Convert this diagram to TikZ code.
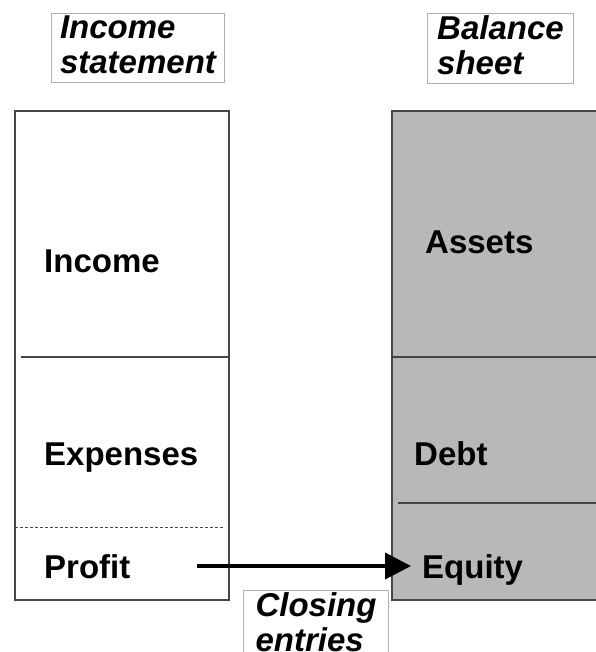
\documentclass[tikz,border=0pt]{standalone}
\usepackage{fontspec}
\setmainfont{Liberation Sans}
\usepackage{xcolor}
\usepackage{tikz}
\usetikzlibrary{arrows.meta,positioning}

\definecolor{sheetgray}{RGB}{184,184,184}
\definecolor{framegray}{RGB}{70,70,70}
\definecolor{labelgray}{RGB}{175,175,175}

\begin{document}
\begin{tikzpicture}[
    x=1pt, y=-1pt,
    every node/.style={font=\fontsize{33}{35}\selectfont\bfseries},
    block/.style={draw=framegray, line width=2pt},
    caption/.style={draw=labelgray, line width=1pt, align=left, anchor=north west,
      inner xsep=7pt, inner ysep=2pt, font=\fontsize{33}{35}\selectfont\bfseries\itshape},
    item/.style={anchor=base west, inner sep=0pt},
    divider/.style={draw=framegray, line width=1.6pt},
    closing/.style={line width=4pt, -{Triangle[length=26pt,width=26pt]}}
  ]
    \useasboundingbox (0,0) rectangle (595,652);

    % Blocks
    \draw[block, fill=white] (15,111) rectangle (229,600);
    \draw[block, fill=sheetgray] (392,111) rectangle (600,600);
    \draw[divider] (21,357) -- (229,357);
    \draw[framegray, line width=1pt, dash pattern=on 3pt off 2pt] (15,527) -- (224,527);
    \draw[divider] (392,357) -- (600,357);
    \draw[divider] (398,503) -- (600,503);

    % Nodes
    \node[caption, minimum width=173pt] (income statement) at (51,13) {Income\\statement\vphantom{g}};
    \node[caption, minimum width=146pt] (balance sheet) at (427,13) {Balance\\sheet\vphantom{g}};
    \node[caption, minimum width=145pt] (closing entries) at (243,590) {Closing\\entries};

    \node[item] (income) at (44,272) {Income};
    \node[item] (expenses) at (44,465) {Expenses};
    \node[item] (profit) at (44,578) {Profit};
    \node[item] (assets) at (425,253) {Assets};
    \node[item] (debt) at (414,465) {Debt};
    \node[item] (equity) at (422,578) {Equity};

    % Arrows
    \coordinate (closing start) at (197,566);
    \draw[closing] (closing start) -- ([xshift=-11pt]equity.west |- closing start);
  \end{tikzpicture}
\end{document}
